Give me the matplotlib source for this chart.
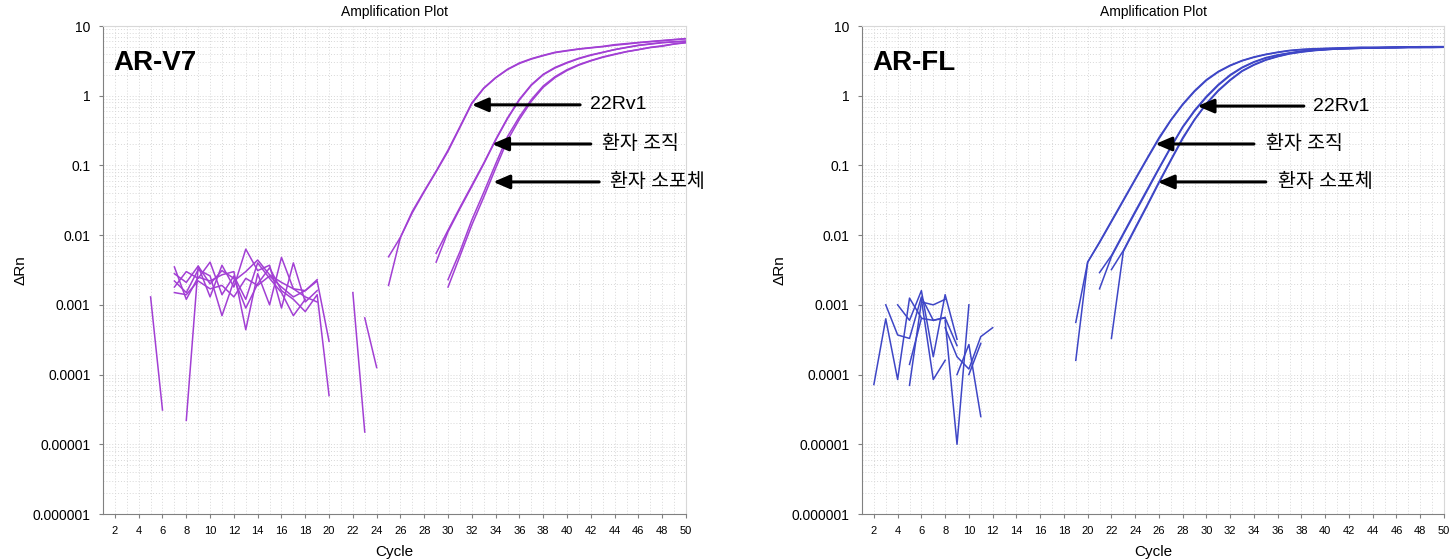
import matplotlib
matplotlib.use("Agg")
import matplotlib.pyplot as plt
from matplotlib.ticker import LogLocator, NullFormatter

plt.rcParams['font.family'] = ['Liberation Sans', 'Noto Sans CJK KR', 'DejaVu Sans']

# y tick labels as printed by the instrument software
y_ticks = [1e-6, 1e-5, 1e-4, 1e-3, 1e-2, 1e-1, 1, 10]
y_labels = ['0.000001', '0.00001', '0.0001', '0.001', '0.01', '0.1', '1', '10']
x_labels = list(range(2, 51, 2))

labels = ['22Rv1', '환자 조직', '환자 소포체']

# ---------------- AR-V7 (left) ----------------
# amplification curves: (first cycle, values)
v7_cells_1 = (25, [0.0049, 0.0093, 0.022, 0.043, 0.083, 0.166, 0.36, 0.79, 1.29, 1.82, 2.4, 2.95, 3.4,
                   3.8, 4.2, 4.45, 4.7, 4.9, 5.1, 5.4, 5.6, 5.8, 6.0, 6.2, 6.4, 6.6])
v7_cells_2 = (25, [0.0019, 0.0093, 0.021, 0.042, 0.081, 0.16, 0.35, 0.77, 1.27, 1.80, 2.37, 2.9, 3.35,
                   3.75, 4.15, 4.4, 4.65, 4.85, 5.05, 5.3, 5.5, 5.75, 5.95, 6.15, 6.35, 6.55])
v7_tissue_1 = (29, [0.0041, 0.0112, 0.024, 0.050, 0.105, 0.23, 0.47, 0.87, 1.41, 2.0, 2.5, 2.95, 3.4,
                    3.8, 4.17, 4.57, 4.9, 5.25, 5.5, 5.75, 5.9, 6.0])
v7_tissue_2 = (29, [0.0055, 0.0118, 0.025, 0.052, 0.108, 0.235, 0.48, 0.89, 1.44, 2.03, 2.55, 3.0, 3.45,
                    3.85, 4.2, 4.6, 4.95, 5.3, 5.55, 5.8, 5.95, 6.1])
v7_exo_1 = (30, [0.0018, 0.005, 0.014, 0.035, 0.091, 0.23, 0.46, 0.83, 1.32, 1.82, 2.3, 2.75, 3.16,
                 3.55, 3.9, 4.27, 4.57, 4.9, 5.13, 5.5, 5.75])
v7_exo_2 = (30, [0.0023, 0.0058, 0.0165, 0.041, 0.105, 0.26, 0.5, 0.88, 1.38, 1.88, 2.36, 2.8, 3.2,
                 3.6, 3.95, 4.3, 4.6, 4.95, 5.2, 5.55, 5.8])
# baseline noise fragments
v7_noise = [
    (7, [0.0028, 0.0021, 0.0036, 0.0013, 0.0037, 0.0018, 0.0063, 0.0031, 0.0037, 0.0009, 0.0040, 0.0011, 0.0016]),
    (7, [0.0018, 0.0030, 0.0024, 0.0041, 0.0014, 0.0026, 0.0012, 0.0040, 0.0024, 0.0015, 0.0007, 0.0012]),
    (7, [0.0022, 0.0015, 0.0032, 0.0026, 0.0007, 0.0022, 0.0030, 0.0044, 0.0027, 0.0021, 0.0017, 0.0016, 0.0022, 0.0003]),
    (7, [0.0035, 0.0012, 0.0025, 0.0022, 0.0027, 0.0030, 0.00044, 0.0028, 0.0010, 0.0048, 0.0017, 0.0013, 0.0011]),
    (8, [0.000022, 0.0036, 0.0020, 0.0031, 0.0024, 0.0009, 0.0020, 0.0034, 0.0016, 0.0012, 0.0008, 0.0014, 0.00005]),
    (7, [0.0015, 0.0014, 0.0022, 0.0017, 0.0019, 0.0013, 0.0024, 0.0019, 0.0026, 0.0018, 0.0013, 0.0016, 0.0023]),
    (5, [0.0013, 0.000031]),
    (22, [0.0015, 0.000015]),
    (23, [0.00065, 0.000126]),
]

# ---------------- AR-FL (right) ----------------
fl_cells_1 = (19, [0.00056, 0.0041, 0.0078, 0.0155, 0.031, 0.062, 0.123, 0.24, 0.44, 0.74, 1.15, 1.66, 2.19,
                   2.69, 3.16, 3.55, 3.89, 4.17, 4.42, 4.57, 4.68, 4.73, 4.79, 4.84, 4.9, 4.9, 4.9, 4.95,
                   4.95, 4.95, 5.0, 5.0])
fl_cells_2 = (19, [0.00016, 0.0041, 0.0080, 0.0160, 0.032, 0.064, 0.127, 0.25, 0.45, 0.76, 1.18, 1.7, 2.23,
                   2.74, 3.2, 3.6, 3.93, 4.22, 4.47, 4.62, 4.72, 4.78, 4.84, 4.9, 4.95, 4.95, 4.95, 5.0,
                   5.0, 5.05, 5.05, 5.05])
fl_tissue_1 = (21, [0.0017, 0.0049, 0.0102, 0.021, 0.043, 0.089, 0.18, 0.35, 0.60, 0.95, 1.41, 1.95, 2.51,
                    3.02, 3.47, 3.8, 4.07, 4.32, 4.47, 4.57, 4.68, 4.73, 4.79, 4.84, 4.9, 4.9, 4.95, 4.95,
                    5.0, 5.0])
fl_tissue_2 = (21, [0.0029, 0.0051, 0.0106, 0.022, 0.045, 0.092, 0.185, 0.36, 0.62, 0.98, 1.45, 2.0, 2.56,
                    3.07, 3.52, 3.85, 4.12, 4.37, 4.52, 4.62, 4.72, 4.77, 4.83, 4.88, 4.93, 4.95, 5.0, 5.0,
                    5.05, 5.05])
fl_exo_1 = (22, [0.00033, 0.0058, 0.0123, 0.026, 0.056, 0.117, 0.24, 0.45, 0.76, 1.17, 1.66, 2.24, 2.75,
                 3.24, 3.63, 3.98, 4.22, 4.42, 4.57, 4.68, 4.73, 4.79, 4.8, 4.85, 4.85, 4.9, 4.9, 4.9, 4.95])
fl_exo_2 = (22, [0.0032, 0.0060, 0.0128, 0.027, 0.058, 0.121, 0.25, 0.46, 0.78, 1.2, 1.7, 2.28, 2.8,
                 3.28, 3.67, 4.02, 4.27, 4.47, 4.62, 4.72, 4.78, 4.83, 4.85, 4.9, 4.92, 4.95, 4.95, 4.97, 5.0])
fl_noise = [
    (2, [7.2e-5, 6.3e-4, 8.5e-5, 1.25e-3, 6.5e-4]),
    (3, [1.0e-3, 3.7e-4, 3.3e-4, 1.3e-3, 6.0e-4, 6.5e-4, 2.6e-4]),
    (4, [1.0e-3, 6.0e-4, 1.6e-3, 1.8e-4, 1.4e-3, 3.2e-4]),
    (5, [7.0e-5, 1.1e-3, 1.0e-3, 1.2e-3]),
    (5, [1.4e-4, 6.4e-4, 6.0e-4, 6.6e-4]),
    (6, [1.2e-3, 8.5e-5, 1.6e-4]),
    (8, [4.7e-4, 1.8e-4, 1.2e-4, 3.5e-4, 4.7e-4]),
    (8, [6.0e-4, 1.0e-5, 1.0e-3]),
    (9, [1.0e-4, 2.7e-4, 2.5e-5]),
    (10, [1.0e-4, 2.8e-4]),
]


def draw_panel(ax, curves, noise, color, name, arrows):
    for start, vals in noise + curves:
        ax.plot(range(start, start + len(vals)), vals, color=color, lw=1.1)

    ax.set_yscale('log')
    ax.set_ylim(1e-6, 10)
    ax.set_xlim(1, 50)
    ax.set_yticks(y_ticks)
    ax.set_yticklabels(y_labels, fontsize=10)
    ax.yaxis.set_minor_locator(LogLocator(base=10, subs=range(2, 10), numticks=20))
    ax.yaxis.set_minor_formatter(NullFormatter())
    ax.set_xticks(x_labels)
    ax.set_xticklabels([str(v) for v in x_labels], fontsize=8)
    ax.set_xticks(range(1, 51), minor=True)
    ax.tick_params(which='minor', length=0)
    ax.tick_params(which='major', length=3, color='#808080', pad=6)
    ax.grid(which='both', ls=(0, (1, 2)), color='#d8d8d8', lw=0.7)
    ax.set_axisbelow(True)
    for s in ['left', 'bottom']:
        ax.spines[s].set_color('#808080')
    for s in ['top', 'right']:
        ax.spines[s].set_color('#d8d8d8')

    ax.set_title('Amplification Plot', fontsize=10, pad=7)
    ax.set_xlabel('Cycle', fontsize=11, labelpad=6)
    ax.set_ylabel('ΔRn', fontsize=11)
    ax.yaxis.set_label_coords(-0.13, 0.5)
    ax.text(0.018, 0.925, name, transform=ax.transAxes, fontsize=20, fontweight='bold',
            va='center', ha='left')

    for lab, tip, tail, tx in zip(labels, arrows[0], arrows[1], arrows[2]):
        ax.annotate('', xy=tip, xytext=tail,
                    arrowprops=dict(arrowstyle='-|>,head_length=0.7,head_width=0.3',
                                    mutation_scale=14, color='black', lw=2.2,
                                    shrinkA=0, shrinkB=0))
        ax.text(tx, tip[1], lab, fontsize=14, va='center', ha='left')


fig = plt.figure(figsize=(14.56, 5.6), dpi=100)
ax1 = fig.add_axes([103 / 1456, 46 / 560, 583 / 1456, 488 / 560])
ax2 = fig.add_axes([862 / 1456, 46 / 560, 582 / 1456, 488 / 560])

draw_panel(ax1, [v7_cells_1, v7_cells_2, v7_tissue_1, v7_tissue_2, v7_exo_1, v7_exo_2],
           v7_noise, '#A23FD4', 'AR-V7',
           ([(32.0, 0.74), (33.7, 0.203), (33.8, 0.058)],
            [(41.1, 0.74), (42.0, 0.203), (42.7, 0.058)],
            [41.9, 42.9, 43.6]))
draw_panel(ax2, [fl_cells_1, fl_cells_2, fl_tissue_1, fl_tissue_2, fl_exo_1, fl_exo_2],
           fl_noise, '#3E46C6', 'AR-FL',
           ([(29.25, 0.71), (25.7, 0.203), (25.9, 0.058)],
            [(38.2, 0.71), (34.0, 0.203), (35.0, 0.058)],
            [39.0, 35.0, 36.0]))

fig.savefig('out.png', dpi=100)
